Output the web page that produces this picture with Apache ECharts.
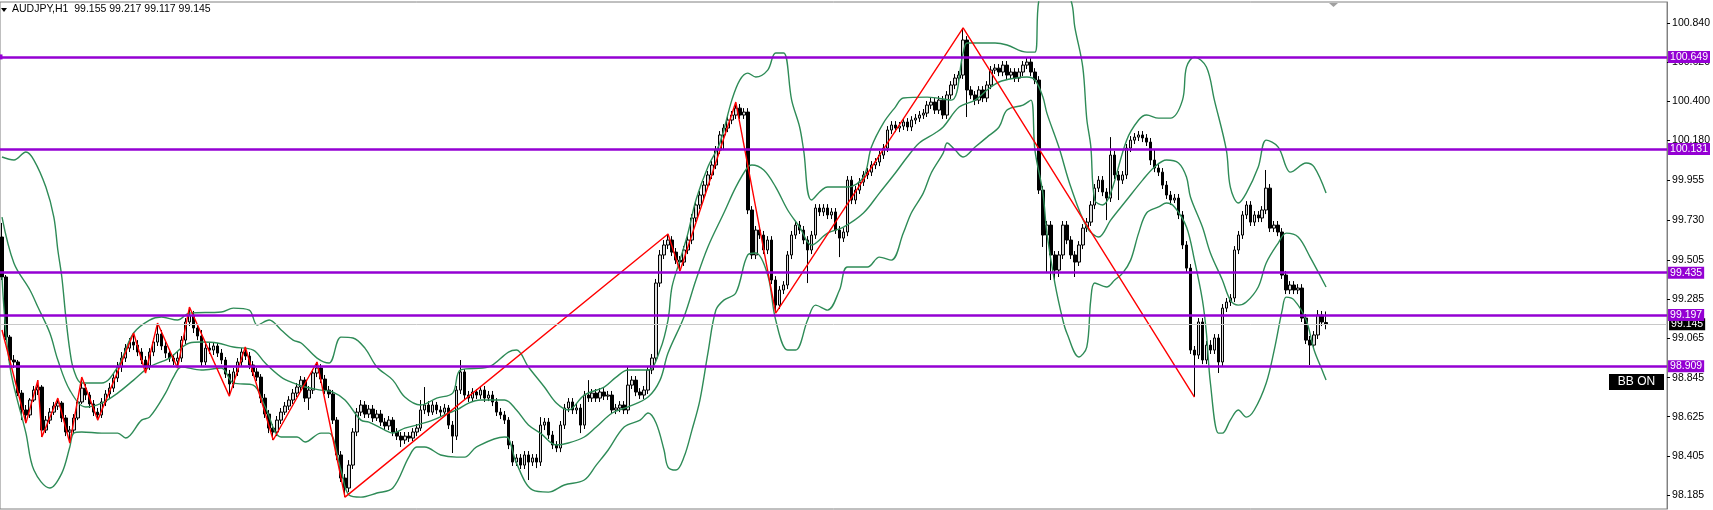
<!DOCTYPE html>
<html>
<head>
<meta charset="utf-8">
<script src="https://cdn.jsdelivr.net/npm/echarts@6/dist/echarts.min.js"></script>
<style>
  html, body { margin: 0; padding: 0; background: #fff; }
  #chart { width: 1713px; height: 510px; }
</style>
</head>
<body>
<div id="chart"></div>
<script>
// AUDJPY H1 candles
const opens = [
  99.636,99.411,99.073,98.944,98.933,98.758,98.663,98.635,98.719,98.775,
  98.792,98.550,98.606,98.651,98.685,98.702,98.618,98.539,98.550,98.618,
  98.708,98.786,98.747,98.697,98.651,98.635,98.708,98.753,98.786,98.843,
  98.905,98.955,99.011,99.045,99.028,98.989,98.944,98.910,98.989,99.045,
  99.090,99.023,98.983,98.955,98.938,98.955,99.056,99.158,99.197,99.124,
  99.079,98.933,99.011,99.000,99.023,98.983,98.944,98.865,98.809,98.877,
  98.933,98.989,98.966,98.916,98.877,98.848,98.730,98.640,98.561,98.539,
  98.606,98.651,98.685,98.719,98.758,98.792,98.831,98.730,98.775,98.871,
  98.899,98.837,98.775,98.753,98.606,98.410,98.280,98.224,98.353,98.539,
  98.651,98.691,98.640,98.668,98.618,98.640,98.595,98.573,98.606,98.539,
  98.516,98.494,98.516,98.505,98.539,98.561,98.663,98.691,98.651,98.691,
  98.663,98.651,98.674,98.578,98.516,98.775,98.877,98.747,98.730,98.764,
  98.747,98.775,98.730,98.747,98.708,98.651,98.635,98.606,98.466,98.370,
  98.393,98.353,98.410,98.370,98.393,98.370,98.578,98.595,98.522,98.466,
  98.449,98.578,98.674,98.708,98.663,98.674,98.578,98.747,98.730,98.758,
  98.730,98.764,98.741,98.747,98.663,98.674,98.691,98.663,98.803,98.831,
  98.764,98.747,98.775,98.888,98.955,99.377,99.535,99.591,99.619,99.551,
  99.506,99.495,99.563,99.619,99.743,99.816,99.872,99.928,99.985,100.041,
  100.125,100.210,100.249,100.294,100.322,100.361,100.322,100.339,99.788,99.535,
  99.675,99.647,99.563,99.619,99.394,99.253,99.338,99.366,99.535,99.647,
  99.703,99.675,99.619,99.563,99.647,99.799,99.777,99.799,99.760,99.777,
  99.675,99.630,99.664,99.956,99.844,99.900,99.945,99.985,100.001,100.041,
  100.058,100.097,100.136,100.238,100.266,100.249,100.260,100.283,100.255,100.294,
  100.305,100.322,100.333,100.378,100.395,100.350,100.406,100.322,100.435,100.491,
  100.530,100.547,100.744,100.463,100.435,100.406,100.463,100.418,100.491,100.575,
  100.586,100.564,100.603,100.547,100.564,100.530,100.564,100.603,100.620,100.564,
  100.519,99.900,99.647,99.703,99.535,99.450,99.535,99.703,99.619,99.535,
  99.495,99.591,99.686,99.720,99.816,99.911,99.956,99.889,99.855,100.097,
  99.985,99.956,99.985,100.136,100.181,100.198,100.210,100.193,100.170,100.069,
  100.024,100.001,99.928,99.872,99.844,99.855,99.760,99.591,99.461,99.000,
  98.972,99.158,98.944,99.028,99.000,99.068,98.933,99.236,99.270,99.293,
  99.563,99.647,99.760,99.816,99.720,99.760,99.743,99.788,99.911,99.686,
  99.703,99.664,99.422,99.338,99.366,99.338,99.349,99.180,99.056,99.028,
  99.085,99.197,99.155
];
const closes = [
  99.411,99.073,98.944,98.933,98.758,98.663,98.635,98.719,98.775,98.792,
  98.550,98.606,98.651,98.685,98.702,98.618,98.539,98.550,98.618,98.708,
  98.786,98.747,98.697,98.651,98.635,98.708,98.753,98.786,98.843,98.905,
  98.955,99.011,99.045,99.028,98.989,98.944,98.910,98.989,99.045,99.090,
  99.023,98.983,98.955,98.938,98.955,99.056,99.158,99.197,99.124,99.079,
  98.933,99.011,99.000,99.023,98.983,98.944,98.865,98.809,98.877,98.933,
  98.989,98.966,98.916,98.877,98.848,98.730,98.640,98.561,98.539,98.606,
  98.651,98.685,98.719,98.758,98.792,98.831,98.730,98.775,98.871,98.899,
  98.837,98.775,98.753,98.606,98.410,98.280,98.224,98.353,98.539,98.651,
  98.691,98.640,98.668,98.618,98.640,98.595,98.573,98.606,98.539,98.516,
  98.494,98.516,98.505,98.539,98.561,98.663,98.691,98.651,98.691,98.663,
  98.651,98.674,98.578,98.516,98.775,98.877,98.747,98.730,98.764,98.747,
  98.775,98.730,98.747,98.708,98.651,98.635,98.606,98.466,98.370,98.393,
  98.353,98.410,98.370,98.393,98.370,98.578,98.595,98.522,98.466,98.449,
  98.578,98.674,98.708,98.663,98.674,98.578,98.747,98.730,98.758,98.730,
  98.764,98.741,98.747,98.663,98.674,98.691,98.663,98.803,98.831,98.764,
  98.747,98.775,98.888,98.955,99.377,99.535,99.591,99.619,99.551,99.506,
  99.495,99.563,99.619,99.743,99.816,99.872,99.928,99.985,100.041,100.125,
  100.210,100.249,100.294,100.322,100.361,100.322,100.339,99.788,99.535,99.675,
  99.647,99.563,99.619,99.394,99.253,99.338,99.366,99.535,99.647,99.703,
  99.675,99.619,99.563,99.647,99.799,99.777,99.799,99.760,99.777,99.675,
  99.630,99.664,99.956,99.844,99.900,99.945,99.985,100.001,100.041,100.058,
  100.097,100.136,100.238,100.266,100.249,100.260,100.283,100.255,100.294,100.305,
  100.322,100.333,100.378,100.395,100.350,100.406,100.322,100.435,100.491,100.530,
  100.547,100.744,100.463,100.435,100.406,100.463,100.418,100.491,100.575,100.586,
  100.564,100.603,100.547,100.564,100.530,100.564,100.603,100.620,100.564,100.519,
  99.900,99.647,99.703,99.535,99.450,99.535,99.703,99.619,99.535,99.495,
  99.591,99.686,99.720,99.816,99.911,99.956,99.889,99.855,100.097,99.985,
  99.956,99.985,100.136,100.181,100.198,100.210,100.193,100.170,100.069,100.024,
  100.001,99.928,99.872,99.844,99.855,99.760,99.591,99.461,99.000,98.972,
  99.158,98.944,99.028,99.000,99.068,98.933,99.236,99.270,99.293,99.563,
  99.647,99.760,99.816,99.720,99.760,99.743,99.788,99.911,99.686,99.703,
  99.664,99.422,99.338,99.366,99.338,99.349,99.180,99.056,99.028,99.085,
  99.197,99.158,99.145
];
const highs = [
  99.715,99.422,99.085,98.972,98.944,98.775,98.691,98.730,98.798,98.831,
  98.803,98.629,98.674,98.708,98.730,98.713,98.635,98.573,98.640,98.730,
  98.848,98.809,98.764,98.719,98.674,98.730,98.775,98.815,98.865,98.933,
  98.989,99.034,99.068,99.096,99.056,99.011,98.966,99.011,99.068,99.152,
  99.113,99.045,99.006,98.978,98.989,99.079,99.180,99.242,99.220,99.146,
  99.113,99.034,99.040,99.045,99.040,99.006,98.961,98.888,98.899,98.955,
  99.011,99.017,98.989,98.938,98.899,98.865,98.753,98.663,98.584,98.629,
  98.674,98.708,98.741,98.781,98.815,98.854,98.848,98.798,98.893,98.933,
  98.921,98.860,98.798,98.775,98.623,98.432,98.303,98.381,98.561,98.674,
  98.719,98.713,98.691,98.691,98.663,98.663,98.618,98.629,98.623,98.561,
  98.539,98.539,98.539,98.561,98.584,98.719,98.792,98.713,98.713,98.708,
  98.685,98.697,98.691,98.601,98.798,98.944,98.893,98.770,98.786,98.781,
  98.798,98.798,98.770,98.770,98.730,98.674,98.657,98.623,98.488,98.415,
  98.415,98.432,98.432,98.415,98.415,98.623,98.618,98.618,98.545,98.488,
  98.601,98.697,98.730,98.730,98.697,98.697,98.770,98.831,98.781,98.781,
  98.786,98.786,98.770,98.770,98.697,98.713,98.713,98.905,98.854,98.854,
  98.786,98.798,98.910,98.978,99.400,99.563,99.619,99.647,99.641,99.574,
  99.529,99.585,99.641,99.765,99.838,99.895,99.951,100.007,100.063,100.148,
  100.232,100.271,100.316,100.345,100.395,100.384,100.361,100.361,99.810,99.698,
  99.698,99.670,99.641,99.641,99.416,99.360,99.388,99.557,99.670,99.726,
  99.726,99.698,99.641,99.670,99.821,99.821,99.821,99.821,99.799,99.799,
  99.698,99.686,99.979,99.979,99.923,99.968,100.007,100.024,100.063,100.080,
  100.120,100.159,100.260,100.288,100.288,100.283,100.305,100.305,100.316,100.328,
  100.345,100.356,100.401,100.418,100.418,100.429,100.429,100.457,100.513,100.553,
  100.570,100.812,100.766,100.485,100.457,100.485,100.485,100.513,100.598,100.609,
  100.609,100.626,100.626,100.586,100.586,100.586,100.626,100.643,100.643,100.586,
  100.541,99.923,99.726,99.726,99.557,99.557,99.726,99.726,99.641,99.557,
  99.613,99.709,99.743,99.838,99.934,99.979,99.979,99.911,100.198,100.120,
  100.007,100.007,100.159,100.204,100.221,100.232,100.232,100.215,100.193,100.125,
  100.046,100.024,99.951,99.895,99.878,99.878,99.782,99.613,99.484,99.023,
  99.180,99.180,99.051,99.056,99.090,99.090,99.259,99.293,99.315,99.585,
  99.670,99.782,99.838,99.838,99.782,99.782,99.810,100.013,99.934,99.726,
  99.726,99.686,99.445,99.388,99.388,99.371,99.371,99.203,99.079,99.107,
  99.225,99.220,99.217
];
const lows = [
  99.394,99.056,98.905,98.899,98.741,98.606,98.589,98.618,98.708,98.747,
  98.511,98.533,98.584,98.635,98.663,98.595,98.516,98.477,98.528,98.606,
  98.697,98.719,98.674,98.629,98.606,98.618,98.685,98.730,98.764,98.820,
  98.877,98.933,98.989,99.000,98.966,98.921,98.871,98.888,98.966,99.023,
  99.000,98.955,98.933,98.916,98.899,98.933,99.034,99.135,99.096,99.056,
  98.905,98.916,98.978,98.972,98.961,98.921,98.843,98.741,98.786,98.854,
  98.910,98.944,98.893,98.854,98.826,98.702,98.618,98.533,98.494,98.516,
  98.584,98.635,98.663,98.697,98.736,98.770,98.708,98.663,98.753,98.848,
  98.815,98.753,98.730,98.584,98.381,98.258,98.173,98.201,98.331,98.516,
  98.629,98.618,98.618,98.595,98.601,98.573,98.550,98.550,98.516,98.494,
  98.455,98.472,98.483,98.488,98.516,98.545,98.640,98.629,98.635,98.640,
  98.629,98.629,98.556,98.421,98.494,98.753,98.725,98.708,98.708,98.725,
  98.725,98.708,98.713,98.685,98.629,98.612,98.584,98.443,98.348,98.348,
  98.331,98.331,98.269,98.348,98.336,98.348,98.550,98.500,98.443,98.426,
  98.426,98.556,98.651,98.640,98.640,98.533,98.556,98.708,98.708,98.708,
  98.708,98.719,98.719,98.640,98.640,98.651,98.640,98.640,98.781,98.741,
  98.725,98.725,98.753,98.865,98.933,99.355,99.512,99.568,99.529,99.484,
  99.445,99.473,99.540,99.596,99.720,99.793,99.850,99.906,99.962,100.018,
  100.103,100.125,100.226,100.271,100.300,100.300,100.300,99.765,99.512,99.512,
  99.625,99.540,99.540,99.371,99.208,99.231,99.315,99.343,99.512,99.625,
  99.653,99.596,99.377,99.540,99.625,99.754,99.754,99.737,99.737,99.653,
  99.523,99.608,99.641,99.821,99.821,99.878,99.923,99.962,99.979,100.018,
  100.035,100.075,100.114,100.215,100.226,100.226,100.238,100.232,100.232,100.271,
  100.283,100.300,100.311,100.356,100.328,100.328,100.300,100.300,100.412,100.468,
  100.508,100.525,100.311,100.412,100.378,100.384,100.395,100.395,100.468,100.553,
  100.541,100.541,100.525,100.525,100.508,100.508,100.541,100.581,100.541,100.496,
  99.878,99.580,99.433,99.394,99.394,99.411,99.512,99.596,99.512,99.411,
  99.473,99.568,99.664,99.698,99.793,99.889,99.866,99.731,99.833,99.962,
  99.844,99.934,99.962,100.114,100.159,100.176,100.170,100.148,100.041,100.001,
  99.979,99.906,99.850,99.816,99.827,99.737,99.568,99.439,98.978,98.736,
  98.950,98.921,98.921,98.978,98.978,98.871,98.910,99.214,99.248,99.270,
  99.540,99.625,99.737,99.698,99.698,99.720,99.720,99.765,99.664,99.664,
  99.641,99.400,99.315,99.315,99.315,99.315,99.158,99.034,98.916,99.006,
  99.062,99.135,99.117
];

// Bollinger band lines: [bar, price]
const bbUpper = [
  [0,100.086],[3,100.069],[6,100.114],[8,100.069],[11,99.917],[13,99.748],[14,99.563],[15,99.411],
  [16,99.186],[17,99.000],[18,98.888],[20,98.815],[25,98.815],[29,98.905],[33,99.096],[37,99.169],
  [40,99.186],[44,99.169],[47,99.208],[55,99.214],[58,99.236],[62,99.225],[64,99.141],[67,99.169],
  [70,99.113],[73,99.056],[75,99.040],[79,98.955],[82,98.927],[85,99.073],[88,99.068],[91,99.011],
  [94,98.905],[98,98.831],[101,98.736],[105,98.691],[109,98.730],[113,98.758],[115,98.888],[122,98.905],
  [127,98.989],[129,99.000],[132,98.905],[136,98.792],[139,98.702],[142,98.663],[146,98.747],[151,98.792],
  [154,98.848],[157,98.888],[162,98.888],[165,99.000],[167,99.169],[168,99.355],[170,99.506],[172,99.658],
  [174,99.844],[177,100.030],[180,100.165],[183,100.406],[185,100.519],[187,100.558],[189,100.536],[192,100.575],
  [194,100.671],[196,100.671],[198,100.406],[200,100.255],[201,100.125],[203,99.844],[207,99.917],[212,99.917],
  [216,99.973],[218,100.142],[221,100.277],[224,100.367],[226,100.418],[232,100.423],[238,100.406],[241,100.671],
  [242,100.727],[246,100.727],[249,100.727],[252,100.716],[257,100.676],[259,100.676],[260,100.969],[262,101.025],
  [265,101.053],[268,100.969],[269,100.817],[271,100.592],[272,100.300],[273,100.148],[274,99.844],[276,99.816],
  [278,99.883],[282,100.181],[285,100.294],[287,100.322],[290,100.305],[293,100.305],[296,100.406],[297,100.592],
  [299,100.648],[302,100.592],[304,100.406],[307,100.125],[308,99.917],[310,99.827],[312,99.883],[315,100.030],
  [317,100.181],[320,100.142],[322,100.030],[323,100.001],[327,100.052],[329,100.030],[332,99.883]
];
const bbMiddle = [
  [0,99.748],[3,99.489],[7,99.338],[9,99.242],[12,99.096],[14,98.944],[17,98.775],[21,98.680],
  [25,98.702],[29,98.758],[33,98.831],[37,98.905],[42,98.955],[47,99.040],[50,99.045],[54,99.040],
  [58,99.017],[63,99.000],[66,98.927],[70,98.848],[73,98.815],[76,98.792],[80,98.775],[83,98.764],
  [86,98.719],[90,98.606],[92,98.595],[96,98.550],[98,98.533],[101,98.561],[104,98.578],[108,98.606],
  [112,98.646],[114,98.663],[117,98.702],[120,98.719],[126,98.719],[129,98.663],[132,98.578],[135,98.533],
  [139,98.466],[142,98.477],[146,98.511],[149,98.567],[153,98.646],[157,98.680],[162,98.736],[165,98.831],
  [167,98.983],[171,99.186],[174,99.394],[177,99.580],[181,99.771],[184,99.917],[187,100.030],[188,100.041],
  [191,100.013],[194,99.917],[197,99.788],[200,99.692],[203,99.591],[207,99.658],[211,99.692],[216,99.771],
  [220,99.883],[224,99.996],[227,100.086],[230,100.165],[234,100.221],[236,100.255],[240,100.367],[244,100.406],
  [247,100.463],[250,100.508],[254,100.530],[257,100.536],[259,100.519],[261,100.423],[262,100.333],[265,100.142],
  [268,99.917],[272,99.692],[275,99.636],[278,99.731],[282,99.844],[286,99.956],[289,100.030],[292,100.069],
  [295,100.052],[297,99.973],[298,99.861],[301,99.692],[303,99.546],[306,99.394],[308,99.281],[310,99.253],
  [312,99.270],[315,99.355],[317,99.490],[320,99.602],[322,99.658],[325,99.636],[328,99.523],[332,99.355]
];
const bbLower = [
  [0,99.411],[2,98.905],[6,98.533],[8,98.325],[12,98.224],[15,98.308],[17,98.455],[18,98.533],
  [20,98.539],[25,98.533],[29,98.533],[31,98.505],[35,98.606],[37,98.623],[41,98.758],[43,98.848],
  [45,98.905],[50,98.888],[55,98.899],[58,98.815],[63,98.803],[66,98.680],[70,98.511],[74,98.511],
  [76,98.483],[80,98.533],[82,98.533],[85,98.325],[87,98.185],[90,98.173],[94,98.196],[98,98.224],
  [102,98.398],[104,98.455],[106,98.455],[110,98.410],[114,98.398],[116,98.398],[119,98.455],[126,98.511],
  [127,98.505],[129,98.364],[133,98.213],[137,98.201],[141,98.241],[146,98.269],[149,98.353],[152,98.438],
  [156,98.567],[160,98.606],[162,98.646],[164,98.590],[166,98.438],[167,98.342],[169,98.325],[171,98.398],
  [173,98.550],[175,98.719],[177,98.983],[179,99.225],[181,99.281],[184,99.321],[187,99.535],[189,99.546],
  [192,99.422],[194,99.169],[197,99.000],[199,99.000],[202,99.169],[204,99.253],[207,99.225],[210,99.338],
  [212,99.467],[217,99.467],[220,99.523],[223,99.506],[226,99.658],[228,99.771],[231,99.883],[233,99.996],
  [236,100.108],[237,100.165],[239,100.125],[241,100.086],[244,100.142],[247,100.198],[250,100.255],[252,100.350],
  [256,100.378],[258,100.406],[259,100.125],[261,99.883],[262,99.658],[264,99.377],[266,99.169],[267,99.096],
  [270,98.961],[272,99.017],[273,99.281],[274,99.377],[277,99.355],[279,99.394],[281,99.433],[283,99.506],
  [285,99.658],[287,99.771],[290,99.805],[292,99.827],[294,99.805],[297,99.692],[299,99.506],[301,99.281],
  [302,99.096],[303,98.815],[305,98.533],[306,98.533],[308,98.606],[310,98.663],[312,98.623],[314,98.663],
  [317,98.815],[319,99.000],[321,99.225],[322,99.298],[324,99.281],[327,99.169],[329,99.000],[331,98.888],
  [332,98.831]
];

// ZigZag pivots: [bar, price]
const zigzag = [
  [0,99.113],[6,98.589],[9,98.831],[10,98.511],[14,98.730],[17,98.477],[20,98.848],[24,98.606],
  [33,99.096],[36,98.871],[39,99.152],[44,98.899],[47,99.242],[57,98.741],[61,99.017],[68,98.494],
  [79,98.933],[86,98.173],[167,99.653],[170,99.445],[184,100.395],[194,99.208],[241,100.812],[299,98.736]
];

// horizontal levels and price scale
const levels = [100.649, 100.131, 99.435, 99.197, 98.909];
const lastPrice = 99.145;
const tickLabels = ['100.840','100.620','100.400','100.180','99.955','99.730','99.505','99.285','99.065','98.845','98.625','98.405','98.185'];
const yMin = 98.106, yMax = 100.958;
const slotCount = 418;   // chart width in bar slots, incl. the empty shift on the right

const FONT = 'Liberation Sans';
const categories = Array.from({ length: slotCount }, (_, i) => String(i));
const candles = opens.map((o, i) => [o, closes[i], lows[i], highs[i]]);

const chart = echarts.init(document.getElementById('chart'));

function bbLine(name, data) {
  return {
    name: name, type: 'line', data: data, smooth: 0.35, symbol: 'none', z: 3,
    lineStyle: { color: '#2e8b57', width: 1.4 }, animation: false, silent: true
  };
}

chart.setOption({
  animation: false,
  backgroundColor: '#ffffff',
  grid: {
    left: -2, right: 44, top: 2, bottom: 1,
    show: true, borderColor: '#808080', borderWidth: 1
  },
  xAxis: {
    type: 'category', data: categories, show: false
  },
  yAxis: {
    type: 'value', position: 'right', min: yMin, max: yMax,
    splitLine: { show: false },
    axisLine: { show: true, lineStyle: { color: '#808080' } },
    axisTick: { show: true, length: 3, lineStyle: { color: '#000' }, customValues: tickLabels.map(Number) },
    axisLabel: {
      customValues: tickLabels.map(Number),
      formatter: v => v.toFixed(3),
      color: '#000', fontFamily: FONT, fontSize: 10.5, margin: 5
    }
  },
  series: [
    {
      type: 'candlestick', data: candles, barWidth: 3, z: 2, silent: true,
      itemStyle: {
        color: '#dcdcdc', color0: '#000000',
        borderColor: '#000000', borderColor0: '#000000', borderWidth: 1
      }
    },
    bbLine('upper', bbUpper),
    bbLine('middle', bbMiddle),
    bbLine('lower', bbLower),
    {
      type: 'line', data: zigzag, symbol: 'none', z: 4, silent: true,
      lineStyle: { color: '#ff0000', width: 1.4 }
    },
    {
      type: 'line', data: [], z: 5,
      markLine: {
        silent: true, symbol: 'none', animation: false, precision: 3,
        lineStyle: { color: '#c8c8c8', width: 1, type: 'solid' },
        label: {
          position: 'end', distance: 2, formatter: p => Number(p.value).toFixed(3),
          color: '#fff', backgroundColor: '#000', padding: [1, 2, 0, 2],
          fontFamily: FONT, fontSize: 10.5
        },
        data: [{ yAxis: lastPrice }]
      }
    },
    {
      type: 'line', data: [], z: 6,
      markLine: {
        silent: true, symbol: 'none', animation: false, precision: 3,
        lineStyle: { color: '#9400d3', width: 2.5, type: 'solid' },
        label: {
          position: 'end', distance: 1, formatter: p => Number(p.value).toFixed(3),
          color: '#fff', backgroundColor: '#9400d3', padding: [1, 2, 0, 2],
          fontFamily: FONT, fontSize: 10.5
        },
        data: levels.map((v, i) => i === 0
          ? { yAxis: v, symbol: ['rect', 'rect'], symbolSize: 5 }
          : { yAxis: v })
      }
    }
  ],
  graphic: [
    { type: 'polygon', shape: { points: [[1, 8], [7, 8], [4, 12]] }, style: { fill: '#000' } },
    {
      type: 'text', left: 12, top: 4,
      style: { text: 'AUDJPY,H1  99.155 99.217 99.117 99.145', fill: '#000', font: '10.5px "Liberation Sans"' }
    },
    { type: 'polygon', shape: { points: [[1329, 3], [1338, 3], [1333.5, 7]] }, style: { fill: '#a0a0a0' } },
    { type: 'rect', shape: { x: 1609, y: 374, width: 55, height: 16 }, style: { fill: '#000' } },
    {
      type: 'text', x: 1636.5, y: 382,
      style: { text: 'BB ON', fill: '#fff', font: '12px "Liberation Sans"', align: 'center', verticalAlign: 'middle' }
    }
  ]
});
</script>
</body>
</html>
